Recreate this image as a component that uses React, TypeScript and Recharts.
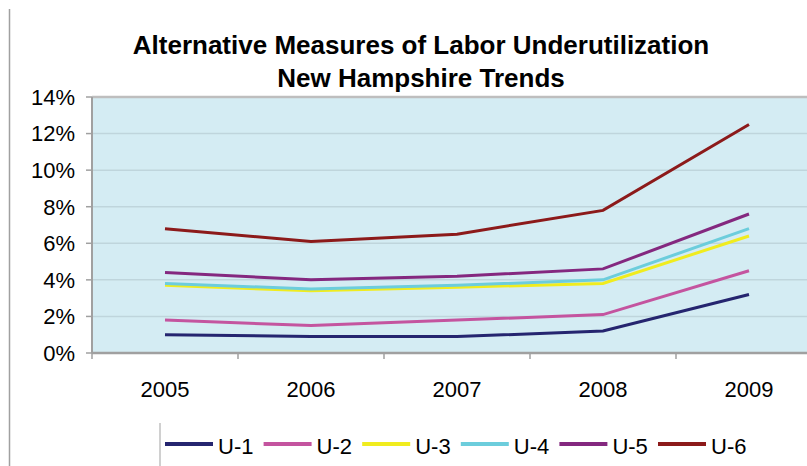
import React from 'react';
import { LineChart, Line, XAxis, YAxis, CartesianGrid, ReferenceLine } from 'recharts';

const years = ['2005', '2006', '2007', '2008', '2009'];
const u1 = [1.0, 0.9, 0.9, 1.2, 3.2];
const u2 = [1.8, 1.5, 1.8, 2.1, 4.5];
const u3 = [3.7, 3.4, 3.6, 3.8, 6.4];
const u4 = [3.8, 3.5, 3.7, 4.0, 6.8];
const u5 = [4.4, 4.0, 4.2, 4.6, 7.6];
const u6 = [6.8, 6.1, 6.5, 7.8, 12.5];
const yTicks = [0, 2, 4, 6, 8, 10, 12, 14];
const titleLines = ['Alternative Measures of Labor Underutilization', 'New Hampshire Trends'];

const series = [
  { key: 'U-1', values: u1, color: '#25256F' },
  { key: 'U-2', values: u2, color: '#C4549F' },
  { key: 'U-3', values: u3, color: '#F0EC1E' },
  { key: 'U-4', values: u4, color: '#6CCDDC' },
  { key: 'U-5', values: u5, color: '#84287F' },
  { key: 'U-6', values: u6, color: '#8C1A1A' },
];

const data = years.map((year, i) => {
  const row: Record<string, string | number> = { year };
  series.forEach(s => { row[s.key] = s.values[i]; });
  return row;
});

const FONT = '"Liberation Sans", Arial, sans-serif';
const CHART_W = 830;
const CHART_H = 466;
const MARGIN = { top: 97, right: 8, bottom: 53, left: 0 };
const Y_W = 92;
const TICK_SIZE = 6;
const TICK_MARGIN = 22;
const band = (CHART_W - MARGIN.left - MARGIN.right - Y_W) / years.length;

const YearTick = (props: any) => {
  const { x, y, payload } = props;
  const axisY = y - TICK_SIZE - TICK_MARGIN;
  return (
    <g>
      <line x1={x - band / 2} x2={x - band / 2} y1={axisY} y2={axisY + 6} stroke="#A0A0A0" strokeWidth={1.5} />
      <text x={x} y={y} dy="0.71em" textAnchor="middle" fontSize={22} fontFamily={FONT} fill="#000">
        {payload.value}
      </text>
    </g>
  );
};

export default function App() {
  return (
    <div style={{ position: 'absolute', left: 0, top: 0, width: 807, height: 466, overflow: 'hidden', background: '#fff' }}>
      <LineChart width={CHART_W} height={CHART_H} data={data} margin={MARGIN}>
        <CartesianGrid fill="#D4ECF3" stroke="#BFD5DC" strokeWidth={1.5} vertical={false} />
        <XAxis
          dataKey="year"
          scale="band"
          tickLine={false}
          tickSize={TICK_SIZE}
          tickMargin={TICK_MARGIN}
          height={60}
          axisLine={{ stroke: '#A0A0A0', strokeWidth: 2.5 }}
          tick={<YearTick />}
          interval={0}
        />
        <YAxis
          width={Y_W}
          domain={[0, 14]}
          ticks={yTicks}
          interval={0}
          tickFormatter={(v: number) => `${v}%`}
          tickSize={6}
          tickMargin={11}
          axisLine={{ stroke: '#A0A0A0', strokeWidth: 2 }}
          tickLine={{ stroke: '#A0A0A0', strokeWidth: 1.5 }}
          tick={{ fill: '#000', fontSize: 22, fontFamily: FONT }}
        />
        <ReferenceLine y={14} stroke="#BEBEBE" strokeWidth={2.5} />
        {series.map(s => (
          <Line
            key={s.key}
            dataKey={s.key}
            stroke={s.color}
            strokeWidth={3}
            dot={false}
            activeDot={false}
            isAnimationActive={false}
          />
        ))}
      </LineChart>
      <svg width={807} height={466} style={{ position: 'absolute', left: 0, top: 0, pointerEvents: 'none' }}>
        <line x1={9.5} x2={9.5} y1={9} y2={466} stroke="#A0A0A0" strokeWidth={1.5} />
        {titleLines.map((t, i) => (
          <text key={t} x={421} y={54 + i * 33} textAnchor="middle" fontSize={26} fontWeight="bold" fontFamily={FONT} fill="#000">
            {t}
          </text>
        ))}
        <line x1={160} x2={160} y1={423} y2={466} stroke="#D0D0D0" strokeWidth={2} />
        {series.map((s, i) => {
          const lx = 165 + i * 98.6;
          return (
            <g key={s.key}>
              <line x1={lx} x2={lx + 48} y1={444} y2={444} stroke={s.color} strokeWidth={4} />
              <text x={lx + 53} y={454} fontSize={22} fontFamily={FONT} fill="#000">{s.key}</text>
            </g>
          );
        })}
      </svg>
    </div>
  );
}
